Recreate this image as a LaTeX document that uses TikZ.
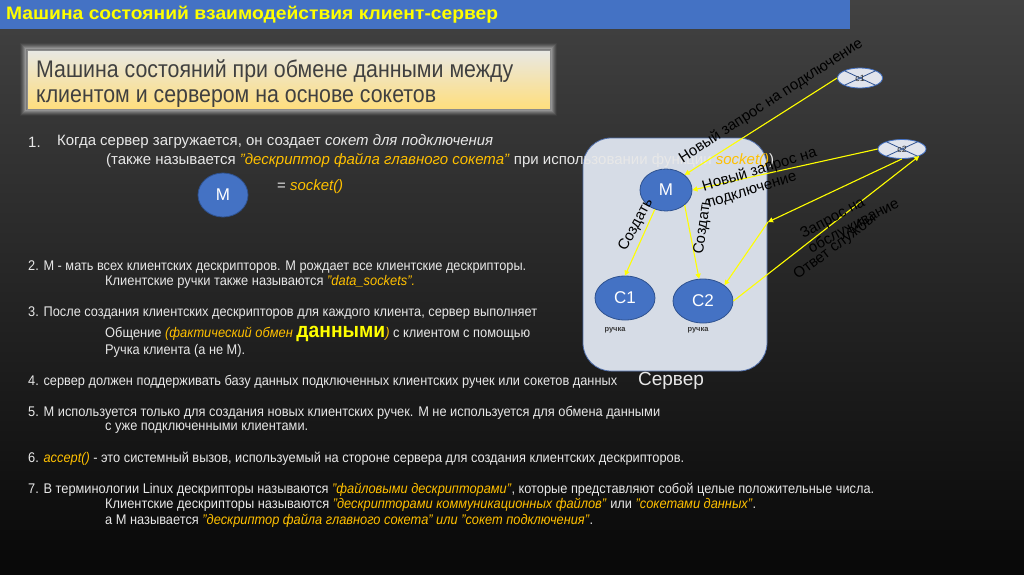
\documentclass[tikz,border=0pt]{standalone}
\usepackage{fontspec}
\setmainfont{Liberation Sans}
\usepackage{graphicx}
\usetikzlibrary{shapes.geometric,arrows.meta}
\definecolor{bgtop}{RGB}{66,66,66}
\definecolor{bgbot}{RGB}{8,8,8}
\definecolor{titleblue}{RGB}{68,114,196}
\definecolor{titleyel}{RGB}{255,255,0}
\definecolor{subtop}{RGB}{232,232,228}
\definecolor{subbot}{RGB}{255,222,125}
\definecolor{subborder}{RGB}{140,140,140}
\definecolor{subtxt}{RGB}{64,64,64}
\definecolor{glowc}{RGB}{190,190,190}
\definecolor{txt}{RGB}{232,232,232}
\definecolor{hl}{RGB}{255,192,0}
\definecolor{ybright}{RGB}{255,255,0}
\definecolor{blobfill}{RGB}{68,114,196}
\definecolor{blobline}{RGB}{47,82,143}
\definecolor{srvfill}{RGB}{214,220,230}
\definecolor{srvline}{RGB}{80,110,170}
\definecolor{cfill}{RGB}{225,228,236}
\definecolor{arr}{RGB}{255,255,0}
\definecolor{hand}{RGB}{55,55,55}
\newlength\fitlen
\newcommand\fitto[2]{\settowidth\fitlen{#2}\pgfmathsetmacro\fitr{#1/\fitlen}\scalebox{\fitr}[1]{#2}}
\begin{document}
\begin{tikzpicture}[x=1pt,y=-1pt,
  bodyA/.style={font=\fontsize{15}{17}\selectfont, text=txt, inner sep=0, anchor=west},
  bodyB/.style={font=\fontsize{14}{16}\selectfont, text=txt, inner sep=0, anchor=west},
  blob/.style={ellipse, fill=blobfill, draw=blobline, line width=0.8pt, text=white, inner sep=0, font=\fontsize{17}{17}\selectfont},
  cli/.style={ellipse, fill=cfill, draw=titleblue, line width=0.8pt, inner sep=0, font=\fontsize{9}{9}\selectfont, text=black!80},
  ya/.style={draw=arr, line width=1.1pt, -{Triangle[width=5pt,length=5pt]}},
  lab/.style={font=\fontsize{15}{17}\selectfont, text=black, inner sep=0, align=left}]
\useasboundingbox (0,0) rectangle (1024,574);
\shade[top color=bgtop,bottom color=bgbot] (0,0) rectangle (1024,574);
% title bar
\fill[titleblue] (0,0) rectangle (850,28.5);
\node[font=\fontsize{18}{18}\selectfont\bfseries, text=titleyel, inner sep=0, anchor=west] (title) at (6,14.5) {\fitto{492}{Машина состояний взаимодействия клиент-сервер}};
% subtitle box with glow
\foreach \i/\o in {1/0.5,2/0.38,3/0.27,4/0.18,5/0.11,6/0.05}
  \draw[glowc, line width=1.2pt, opacity=\o] (27-\i,50-\i) rectangle (550+\i,109+\i);
\shadedraw[top color=subtop, bottom color=subbot, draw=subborder, line width=0.6pt] (27,50) rectangle (550,109);
\node[font=\fontsize{24}{24}\selectfont, text=subtxt, inner sep=0, anchor=base west] (sub1) at (36,77) {\fitto{477}{Машина состояний при обмене данными между}};
\node[font=\fontsize{24}{24}\selectfont, text=subtxt, inner sep=0, anchor=base west] (sub2) at (36,102.5) {\fitto{400}{клиентом и сервером на основе сокетов}};
% server box
\draw[fill=srvfill, draw=srvline, line width=0.8pt, rounded corners=28] (583,138) rectangle (767,371);
% item 1
\node[bodyA] (n1) at (28,142) {1.};
\node[bodyA] (t1) at (57,142) {\fitto{436}{Когда сервер загружается, он создает \textit{сокет для подключения}}};
\node[bodyA] (t1b) at (106,161) {\fitto{668}{(также называется \textcolor{hl}{\textit{"дескриптор файла главного сокета"}} при использовании функции \textcolor{hl}{\textit{socket()}})}};
\node[blob, minimum width=50, minimum height=44] (M0) at (223,195) {M};
\node[bodyA] (eq) at (277,187) {\fitto{66}{= \textcolor{hl}{\textit{socket()}}}};
% items 2-7
\node[bodyB] (t2) at (28,267) {\fitto{498}{2. M - мать всех клиентских дескрипторов. М рождает все клиентские дескрипторы.}};
\node[bodyB] (t2b) at (105,282) {\fitto{310}{Клиентские ручки также называются \textcolor{hl}{\textit{"data\_sockets".}}}};
\node[bodyB] (t3) at (28,313) {\fitto{509}{3. После создания клиентских дескрипторов для каждого клиента, сервер выполняет}};
\node[bodyB] (t3b) at (105,334) {\fitto{425}{Общение \textcolor{hl}{\textit{(фактический обмен }}\textcolor{ybright}{{\fontsize{21}{21}\selectfont\bfseries данными}}\textcolor{hl}{\textit{)}} с клиентом с помощью}};
\node[bodyB] (t3c) at (105,351) {\fitto{140}{Ручка клиента (а не M).}};
\node[bodyB] (t4) at (28,382) {\fitto{589}{4. сервер должен поддерживать базу данных подключенных клиентских ручек или сокетов данных}};
\node[bodyB] (t5) at (28,413) {\fitto{632}{5. M используется только для создания новых клиентских ручек. M не используется для обмена данными}};
\node[bodyB] (t5b) at (105,428) {\fitto{203}{с уже подключенными клиентами.}};
\node[bodyB] (t6) at (28,459) {\fitto{656}{6. \textcolor{hl}{\textit{accept()}} - это системный вызов, используемый на стороне сервера для создания клиентских дескрипторов.}};
\node[bodyB] (t7) at (28,490) {\fitto{846}{7. В терминологии Linux дескрипторы называются \textcolor{hl}{\textit{"файловыми дескрипторами"}}, которые представляют собой целые положительные числа.}};
\node[bodyB] (t7b) at (105,505) {\fitto{651}{Клиентские дескрипторы называются \textcolor{hl}{\textit{"дескрипторами коммуникационных файлов"}} или \textcolor{hl}{\textit{"сокетами данных"}}.}};
\node[bodyB] (t7c) at (105,521) {\fitto{488}{а M называется \textcolor{hl}{\textit{"дескриптор файла главного сокета" или "сокет подключения"}}.}};
% server contents
\node[font=\fontsize{19}{19}\selectfont, text=txt, inner sep=0] (srv) at (671,381) {Сервер};
\node[blob, minimum width=52, minimum height=42] (M) at (666,190) {M};
\node[blob, minimum width=60, minimum height=44] (C1) at (625,298) {C1};
\node[blob, minimum width=60, minimum height=44] (C2) at (703,301) {C2};
\node[font=\fontsize{7.5}{7.5}\selectfont\bfseries, text=hand, inner sep=0] (h1) at (615,330) {ручка};
\node[font=\fontsize{7.5}{7.5}\selectfont\bfseries, text=hand, inner sep=0] (h2) at (698,330) {ручка};
% clients
\node[cli, minimum width=45, minimum height=20] (c1) at (860,78) {};
\draw[blobline, line width=0.8pt] (c1.155) -- (c1.-25) (c1.25) -- (c1.205);
\node[cli, fill=none, draw=none] (c1t) at (860,78) {c1};
\node[cli, minimum width=48, minimum height=19] (c2) at (902,149) {};
\draw[blobline, line width=0.8pt] (c2.155) -- (c2.-25) (c2.25) -- (c2.205);
\node[cli, fill=none, draw=none] (c2t) at (902,149) {c2};
% connectors
\coordinate (bend) at (768,222);
\draw[ya] (c1.west) -- (M.north east);
\draw[ya] (c2.west) -- (M.east);
\draw[ya] (c2.south) -- (bend);
\draw[ya] (bend) -- (C2.north east);
\draw[ya] (C2.east) -- (c2.south east);
\draw[ya] (M.240) -- (C1.north);
\draw[ya] (M.south east) -- (C2.100);
% labels
\node[lab, rotate=33] (l1) at (771,101) {Новый запрос на подключение};
\node[lab, rotate=17] (l2) at (762,178) {Новый запрос на\\подключение};
\node[lab, rotate=28] (l3) at (850,219) {Запрос на\\обслуживание};
\node[lab, rotate=37] (l4) at (835,247) {Ответ службы};
\node[lab, rotate=62] (l5) at (636,225) {Создать};
\node[lab, rotate=82] (l6) at (703,226) {Создать};
\end{tikzpicture}
\end{document}
